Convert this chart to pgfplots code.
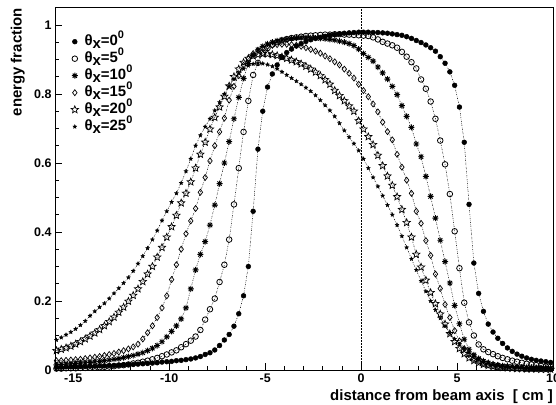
\documentclass[border=0pt]{standalone}
\usepackage{fontspec}
\setmainfont{Liberation Sans}
\usepackage{pgfplots}
\usepackage{pgfplotstable}
\pgfplotsset{compat=1.18}

\pgfdeclareplotmark{ostar}{%
 \pgfpathmoveto{\pgfpointpolar{90}{\pgfplotmarksize}}%
 \pgfpathlineto{\pgfpointpolar{126}{0.45*\pgfplotmarksize}}%
 \pgfpathlineto{\pgfpointpolar{162}{\pgfplotmarksize}}%
 \pgfpathlineto{\pgfpointpolar{198}{0.45*\pgfplotmarksize}}%
 \pgfpathlineto{\pgfpointpolar{234}{\pgfplotmarksize}}%
 \pgfpathlineto{\pgfpointpolar{270}{0.45*\pgfplotmarksize}}%
 \pgfpathlineto{\pgfpointpolar{306}{\pgfplotmarksize}}%
 \pgfpathlineto{\pgfpointpolar{342}{0.45*\pgfplotmarksize}}%
 \pgfpathlineto{\pgfpointpolar{18}{\pgfplotmarksize}}%
 \pgfpathlineto{\pgfpointpolar{54}{0.45*\pgfplotmarksize}}%
 \pgfpathclose
 \pgfusepathqstroke}
\pgfdeclareplotmark{fstar}{%
 \pgfpathmoveto{\pgfpointpolar{90}{\pgfplotmarksize}}%
 \pgfpathlineto{\pgfpointpolar{126}{0.45*\pgfplotmarksize}}%
 \pgfpathlineto{\pgfpointpolar{162}{\pgfplotmarksize}}%
 \pgfpathlineto{\pgfpointpolar{198}{0.45*\pgfplotmarksize}}%
 \pgfpathlineto{\pgfpointpolar{234}{\pgfplotmarksize}}%
 \pgfpathlineto{\pgfpointpolar{270}{0.45*\pgfplotmarksize}}%
 \pgfpathlineto{\pgfpointpolar{306}{\pgfplotmarksize}}%
 \pgfpathlineto{\pgfpointpolar{342}{0.45*\pgfplotmarksize}}%
 \pgfpathlineto{\pgfpointpolar{18}{\pgfplotmarksize}}%
 \pgfpathlineto{\pgfpointpolar{54}{0.45*\pgfplotmarksize}}%
 \pgfpathclose
 \pgfusepathqfillstroke}
\pgfdeclareplotmark{rast}{%
 \pgfpathmoveto{\pgfqpoint{-\pgfplotmarksize}{0pt}}\pgfpathlineto{\pgfqpoint{\pgfplotmarksize}{0pt}}%
 \pgfpathmoveto{\pgfqpoint{0pt}{-\pgfplotmarksize}}\pgfpathlineto{\pgfqpoint{0pt}{\pgfplotmarksize}}%
 \pgfpathmoveto{\pgfpoint{-0.707*\pgfplotmarksize}{-0.707*\pgfplotmarksize}}\pgfpathlineto{\pgfpoint{0.707*\pgfplotmarksize}{0.707*\pgfplotmarksize}}%
 \pgfpathmoveto{\pgfpoint{-0.707*\pgfplotmarksize}{0.707*\pgfplotmarksize}}\pgfpathlineto{\pgfpoint{0.707*\pgfplotmarksize}{-0.707*\pgfplotmarksize}}%
 \pgfusepathqstroke}

\pgfplotstableread{
x a b c d e f
-15.875 0.008 0.004 0.015 0.027 0.056 0.087
-15.625 0.008 0.004 0.016 0.027 0.060 0.094
-15.375 0.009 0.005 0.017 0.028 0.064 0.102
-15.125 0.009 0.005 0.018 0.029 0.069 0.110
-14.875 0.009 0.005 0.019 0.030 0.075 0.119
-14.625 0.010 0.006 0.020 0.031 0.082 0.130
-14.375 0.010 0.006 0.021 0.033 0.090 0.142
-14.125 0.011 0.007 0.022 0.035 0.098 0.157
-13.875 0.011 0.007 0.024 0.037 0.107 0.170
-13.625 0.012 0.008 0.025 0.039 0.117 0.182
-13.375 0.012 0.009 0.027 0.042 0.128 0.193
-13.125 0.013 0.010 0.029 0.045 0.140 0.207
-12.875 0.013 0.011 0.031 0.048 0.153 0.222
-12.625 0.014 0.013 0.033 0.052 0.167 0.237
-12.375 0.015 0.014 0.036 0.056 0.182 0.252
-12.125 0.016 0.016 0.039 0.061 0.199 0.268
-11.875 0.016 0.019 0.042 0.067 0.216 0.287
-11.625 0.017 0.021 0.046 0.075 0.235 0.308
-11.375 0.018 0.024 0.050 0.090 0.256 0.330
-11.125 0.019 0.027 0.056 0.108 0.278 0.353
-10.875 0.020 0.031 0.063 0.128 0.300 0.378
-10.625 0.021 0.035 0.071 0.152 0.327 0.404
-10.375 0.023 0.040 0.082 0.180 0.355 0.433
-10.125 0.024 0.045 0.096 0.215 0.385 0.460
-9.875 0.025 0.051 0.112 0.262 0.415 0.487
-9.625 0.027 0.057 0.128 0.305 0.448 0.512
-9.375 0.028 0.066 0.148 0.350 0.484 0.542
-9.125 0.030 0.075 0.180 0.395 0.512 0.576
-8.875 0.032 0.085 0.235 0.432 0.545 0.612
-8.625 0.035 0.097 0.290 0.468 0.585 0.650
-8.375 0.039 0.116 0.335 0.515 0.625 0.680
-8.125 0.045 0.146 0.372 0.558 0.660 0.705
-7.875 0.050 0.176 0.420 0.606 0.698 0.728
-7.625 0.058 0.207 0.478 0.650 0.732 0.752
-7.375 0.071 0.255 0.540 0.690 0.762 0.776
-7.125 0.087 0.305 0.600 0.730 0.793 0.800
-6.875 0.103 0.378 0.662 0.782 0.823 0.822
-6.625 0.127 0.480 0.728 0.822 0.850 0.843
-6.375 0.163 0.585 0.790 0.853 0.872 0.860
-6.125 0.215 0.690 0.845 0.883 0.891 0.873
-5.875 0.300 0.780 0.888 0.902 0.903 0.882
-5.625 0.460 0.855 0.912 0.917 0.910 0.887
-5.375 0.640 0.890 0.928 0.926 0.914 0.889
-5.125 0.750 0.920 0.938 0.933 0.916 0.888
-4.875 0.820 0.933 0.945 0.938 0.916 0.885
-4.625 0.858 0.943 0.950 0.941 0.914 0.880
-4.375 0.884 0.950 0.954 0.943 0.911 0.873
-4.125 0.906 0.955 0.957 0.944 0.907 0.864
-3.875 0.920 0.959 0.959 0.944 0.903 0.855
-3.625 0.930 0.962 0.961 0.943 0.898 0.846
-3.375 0.939 0.964 0.962 0.941 0.893 0.837
-3.125 0.946 0.966 0.963 0.938 0.887 0.828
-2.875 0.952 0.968 0.963 0.934 0.880 0.818
-2.625 0.957 0.969 0.963 0.929 0.872 0.808
-2.375 0.961 0.970 0.962 0.924 0.863 0.796
-2.125 0.964 0.971 0.961 0.918 0.853 0.782
-1.875 0.967 0.972 0.960 0.910 0.841 0.767
-1.625 0.970 0.972 0.958 0.902 0.828 0.752
-1.375 0.972 0.973 0.956 0.893 0.810 0.735
-1.125 0.974 0.973 0.953 0.884 0.795 0.715
-0.875 0.976 0.972 0.950 0.872 0.780 0.694
-0.625 0.977 0.972 0.946 0.860 0.765 0.675
-0.375 0.978 0.971 0.940 0.846 0.750 0.656
-0.125 0.979 0.970 0.930 0.828 0.722 0.636
0.125 0.979 0.969 0.917 0.810 0.698 0.612
0.375 0.979 0.968 0.906 0.792 0.676 0.585
0.625 0.978 0.964 0.895 0.771 0.653 0.558
0.875 0.978 0.958 0.878 0.748 0.622 0.532
1.125 0.977 0.951 0.861 0.718 0.592 0.505
1.375 0.976 0.946 0.843 0.691 0.562 0.478
1.625 0.974 0.941 0.822 0.667 0.535 0.450
1.875 0.972 0.934 0.798 0.625 0.502 0.420
2.125 0.970 0.922 0.766 0.588 0.465 0.388
2.375 0.966 0.908 0.735 0.550 0.427 0.355
2.625 0.961 0.892 0.703 0.512 0.385 0.322
2.875 0.955 0.874 0.655 0.460 0.335 0.290
3.125 0.949 0.842 0.618 0.425 0.298 0.258
3.375 0.942 0.815 0.561 0.375 0.260 0.228
3.625 0.934 0.778 0.503 0.332 0.224 0.200
3.875 0.924 0.728 0.440 0.278 0.192 0.174
4.125 0.908 0.665 0.376 0.236 0.162 0.150
4.375 0.889 0.596 0.314 0.190 0.133 0.127
4.625 0.864 0.510 0.252 0.152 0.105 0.107
4.875 0.825 0.402 0.187 0.114 0.082 0.090
5.125 0.762 0.295 0.134 0.084 0.062 0.075
5.375 0.660 0.195 0.089 0.062 0.047 0.062
5.625 0.480 0.138 0.060 0.045 0.035 0.051
5.875 0.310 0.100 0.044 0.033 0.027 0.042
6.125 0.222 0.074 0.033 0.025 0.021 0.035
6.375 0.170 0.060 0.025 0.019 0.016 0.029
6.625 0.133 0.052 0.020 0.015 0.013 0.024
6.875 0.110 0.046 0.016 0.012 0.010 0.020
7.125 0.092 0.040 0.014 0.010 0.008 0.017
7.375 0.077 0.035 0.012 0.009 0.007 0.014
7.625 0.064 0.031 0.011 0.008 0.006 0.012
7.875 0.054 0.027 0.010 0.007 0.005 0.010
8.125 0.046 0.024 0.009 0.006 0.004 0.009
8.375 0.040 0.021 0.008 0.006 0.004 0.008
8.625 0.035 0.018 0.007 0.005 0.003 0.007
8.875 0.031 0.016 0.007 0.005 0.003 0.006
9.125 0.028 0.014 0.006 0.004 0.003 0.005
9.375 0.026 0.012 0.006 0.004 0.002 0.005
9.625 0.024 0.010 0.005 0.004 0.002 0.004
9.875 0.022 0.009 0.005 0.003 0.002 0.004
}\datatable

\begin{document}
\begin{tikzpicture}
\path[use as bounding box] (0,0) rectangle (556bp,405bp);
\begin{axis}[
  at={(55bp,35bp)}, anchor=south west,
  width=498bp, height=363bp, scale only axis,
  xmin=-15.95, xmax=10, ymin=0, ymax=1.052,
  xtick={-15,-10,-5,0,5,10},
  ytick={0,0.2,0.4,0.6,0.8,1},
  minor x tick num=4, minor y tick num=3,
  tick pos=left, tick align=inside,
  major tick length=7bp, minor tick length=3.5bp,
  axis line style={line width=0.9bp},
  every tick/.style={black, line width=0.8bp},
  tick label style={font=\bfseries\fontsize{12.5}{12.5}\selectfont},
  /pgf/number format/assume math mode=true,
  yticklabel style={/pgf/number format/fixed},
  legend style={draw=none, fill=none, at={(rel axis cs:0,1)}, anchor=north west,
    xshift=16bp, yshift=-26bp, font=\bfseries\fontsize{15}{15}\selectfont,
    inner sep=0pt, row sep=0pt,
    nodes={inner sep=1.5bp, text height=10.5bp, text depth=3.5bp}},
  legend cell align=left,
  legend image code/.code={\draw[#1] plot coordinates {(0.1cm,0cm)}; \path (0.1cm,0cm) ++(8bp,0bp);},
  every axis plot/.append style={line width=0.5bp, dash pattern=on 1.2bp off 1.2bp on 0.3bp off 1.2bp},
]
\addplot[black, forget plot, densely dotted, line width=0.5bp, mark=none] coordinates {(0,0) (0,1.052)};
\addplot[black, mark=*, mark size=2.4bp, mark options={solid, fill=black}] table[x=x,y=a]{\datatable};
\addlegendentry{θ\raisebox{-0.45ex}{x}=0\raisebox{0.8ex}{\fontsize{11}{11}\selectfont 0}}
\addplot[black, mark=o, mark size=2.8bp, mark options={solid, line width=0.8bp}] table[x=x,y=b]{\datatable};
\addlegendentry{θ\raisebox{-0.45ex}{x}=5\raisebox{0.8ex}{\fontsize{11}{11}\selectfont 0}}
\addplot[black, mark=rast, mark size=3bp, mark options={solid, line width=0.9bp}] table[x=x,y=c]{\datatable};
\addlegendentry{θ\raisebox{-0.45ex}{x}=10\raisebox{0.8ex}{\fontsize{11}{11}\selectfont 0}}
\addplot[black, mark=diamond, mark size=3bp, mark options={solid, line width=0.7bp}] table[x=x,y=d]{\datatable};
\addlegendentry{θ\raisebox{-0.45ex}{x}=15\raisebox{0.8ex}{\fontsize{11}{11}\selectfont 0}}
\addplot[black, mark=ostar, mark size=3.8bp, mark options={solid, line width=0.7bp}] table[x=x,y=e]{\datatable};
\addlegendentry{θ\raisebox{-0.45ex}{x}=20\raisebox{0.8ex}{\fontsize{11}{11}\selectfont 0}}
\addplot[black, mark=fstar, mark size=2.1bp, mark options={solid, fill=black, line width=0.3bp}] table[x=x,y=f]{\datatable};
\addlegendentry{θ\raisebox{-0.45ex}{x}=25\raisebox{0.8ex}{\fontsize{11}{11}\selectfont 0}}
\end{axis}
\node[rotate=90, anchor=south east, font=\bfseries\fontsize{15}{15}\selectfont, inner sep=0pt] at (25bp,397bp) {energy fraction};
\node[anchor=base east, font=\bfseries\fontsize{15}{15}\selectfont, inner sep=0pt] at (553bp,5bp) {distance from beam axis \ [ cm ]};
\end{tikzpicture}
\end{document}
